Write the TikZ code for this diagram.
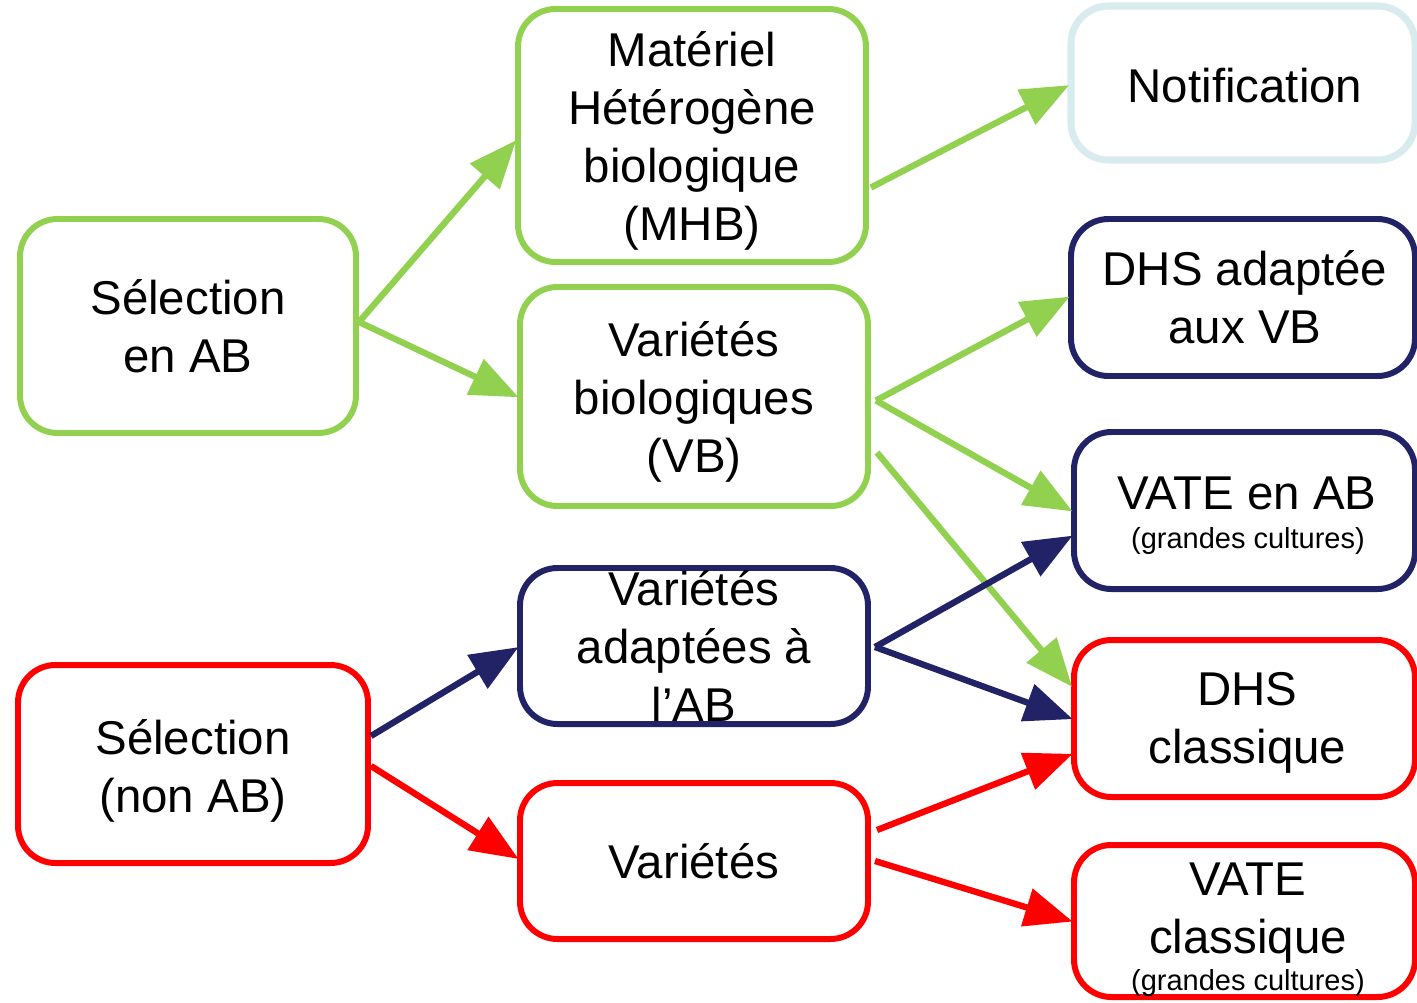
\documentclass[tikz,border=0pt]{standalone}
\usepackage{fontspec}
\setmainfont{Liberation Sans}
\usetikzlibrary{arrows.meta,calc}
\definecolor{cgreen}{HTML}{92D050}
\definecolor{cnavy}{HTML}{222266}
\definecolor{cred}{HTML}{FF0000}
\definecolor{cblue}{HTML}{D8ECEF}
\tikzset{
  box/.style={draw, line width=3.4pt, rounded corners=0.75cm, fill=white, inner sep=0pt},
  gbox/.style={box, draw=cgreen},
  nbox/.style={box, draw=cnavy},
  rbox/.style={box, draw=cred},
  lbox/.style={box, draw=cblue},
  txt/.style={font=\fontsize{27}{33}\selectfont, align=center, inner sep=0pt},
  small/.style={font=\fontsize{16.5}{19}\selectfont, inner sep=0pt},
  arr/.style={line width=3.6pt, -{Triangle[length=0.96cm,width=0.76cm]}, shorten >=-1pt},
  garr/.style={arr, draw=cgreen, fill=cgreen},
  narr/.style={arr, draw=cnavy, fill=cnavy},
  rarr/.style={arr, draw=cred, fill=cred},
}
\begin{document}
\begin{tikzpicture}[x=0.02cm, y=-0.02cm]
\useasboundingbox (0,0) rectangle (1417,1002);
% left column
\node[gbox, minimum width=336*0.02cm, minimum height=214*0.02cm] (selab) at (188,326) {};
\node[txt] (selabt) at ($(selab.center)+(0,0)$) {S\'election\\en AB};
\node[rbox, minimum width=350*0.02cm, minimum height=198*0.02cm] (selnab) at (193,764) {};
\node[txt] (selnabt) at ($(selnab.center)+(0,7)$) {S\'election\\(non AB)};
% middle column
\node[gbox, minimum width=348*0.02cm, minimum height=253*0.02cm] (mhb) at (692,135.5) {};
\node[txt] (mhbt) at ($(mhb.center)+(0,5)$) {Mat\'eriel\\H\'et\'erog\`ene\\biologique\\(MHB)};
\node[gbox, minimum width=348*0.02cm, minimum height=219*0.02cm] (vb) at (694,396.5) {};
\node[txt] (vbt) at ($(vb.center)+(0,5)$) {Vari\'et\'es\\biologiques\\(VB)};
\node[nbox, minimum width=348*0.02cm, minimum height=156*0.02cm] (vaab) at (694,646) {};
\node[txt] (vaabt) at (vaab.center) {Vari\'et\'es\\adapt\'ees \`a\\l'AB};
\node[rbox, minimum width=348*0.02cm, minimum height=156*0.02cm] (var) at (694,861) {};
\node[txt] (vart) at (var.center) {Vari\'et\'es};
% right column
\node[lbox, line width=4pt, minimum width=344*0.02cm, minimum height=154*0.02cm] (notif) at (1243,83) {};
\node[txt] (notift) at ($(notif.center)+(2,3)$) {Notification};
\node[nbox, minimum width=344*0.02cm, minimum height=157*0.02cm] (dhsvb) at (1243,297.5) {};
\node[txt] (dhsvbt) at ($(dhsvb.center)+(2,0)$) {DHS adapt\'ee\\aux VB};
\node[nbox, minimum width=341*0.02cm, minimum height=157*0.02cm] (vateab) at (1244.5,510.5) {};
\node[txt] (vateabt) at (1247,493) {VATE en AB};
\node[small] (vateabs) at (1248,541) {(grandes cultures)};
\node[rbox, minimum width=341*0.02cm, minimum height=157*0.02cm] (dhscl) at (1244.5,718.5) {};
\node[txt] (dhsclt) at ($(dhscl.center)+(3,4)$) {DHS\\classique};
\node[rbox, minimum width=341*0.02cm, minimum height=152*0.02cm] (vatecl) at (1244.5,921) {};
\node[txt] (vateclt) at (1248,913) {VATE\\classique};
\node[small] (vatecls) at (1248,983) {(grandes cultures)};
% connectors
\draw[garr] ($(selab.east)+(0,-4)$) -- ($(mhb.west)+(0,6)$);
\draw[garr] ($(selab.east)+(0,-4)$) -- (vb.west);
\draw[garr] ($(mhb.east)+(2,52)$) -- ($(notif.west)+(0,3)$);
\draw[garr] ($(vb.east)+(5,4)$) -- (dhsvb.west);
\draw[garr] ($(vb.east)+(5,4)$) -- (vateab.west);
\draw[garr] ($(vb.east)+(6,56)$) -- ($(dhscl.west)+(0,-33)$);
\draw[narr] ($(vaab.east)+(4,1)$) -- ($(vateab.west)+(0,26)$);
\draw[narr] ($(vaab.east)+(4,1)$) -- (dhscl.west);
\draw[narr] ($(selnab.east)+(0,-28)$) -- ($(vaab.west)+(0,2)$);
\draw[rarr] ($(selnab.east)+(0,2)$) -- ($(var.west)+(0,-3)$);
\draw[rarr] ($(var.east)+(6,-31)$) -- ($(dhscl.west)+(0,36)$);
\draw[rarr] ($(var.east)+(4,0)$) -- (vatecl.west);
\end{tikzpicture}
\end{document}
